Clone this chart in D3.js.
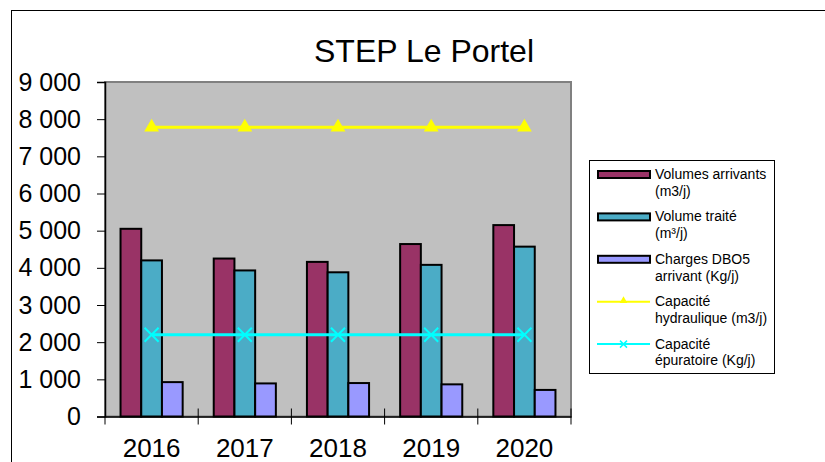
<!DOCTYPE html>
<html>
<head>
<meta charset="utf-8">
<script src="https://cdn.jsdelivr.net/npm/d3@7"></script>
<style>
  body { margin: 0; background: #fff; }
  svg { display: block; font-family: "Liberation Sans", Arial, sans-serif; }
</style>
</head>
<body>
<div id="chart"></div>
<script>
// Data.
const years = ["2016", "2017", "2018", "2019", "2020"];
const volumesArrivants = [5050, 4250, 4160, 4640, 5150];
const volumeTraite = [4200, 3930, 3880, 4080, 4570];
const chargesDBO5 = [925, 890, 900, 865, 715];
const capaciteHydraulique = [7780, 7780, 7780, 7780, 7780];
const capaciteEpuratoire = [2200, 2200, 2200, 2200, 2200];
const yTicks = [0, 1000, 2000, 3000, 4000, 5000, 6000, 7000, 8000, 9000];

const barSeries = [
    { name: ["Volumes arrivants", "(m3/j)"], values: volumesArrivants, color: "#993366" },
    { name: ["Volume traité", "(m³/j)"], values: volumeTraite, color: "#4BACC6" },
    { name: ["Charges DBO5", "arrivant (Kg/j)"], values: chargesDBO5, color: "#9999FF" }
];
const lineSeries = [
    { name: ["Capacité", "hydraulique (m3/j)"], values: capaciteHydraulique, color: "#FFFF00", marker: "triangle" },
    { name: ["Capacité", "épuratoire (Kg/j)"], values: capaciteEpuratoire, color: "#00FFFF", marker: "cross" }
];

const width = 825, height = 462;
const plot = { left: 105, right: 571, top: 82, bottom: 416.5 };

const svg = d3.select("#chart").append("svg")
    .attr("width", width)
    .attr("height", height);

// outer chart frame
svg.append("rect")
    .attr("x", 11.5).attr("y", 10.5)
    .attr("width", 900).attr("height", 600)
    .attr("fill", "#fff")
    .attr("stroke", "#000");

// title
svg.append("text")
    .attr("x", 424).attr("y", 61.5)
    .attr("text-anchor", "middle")
    .attr("font-size", 32)
    .text("STEP Le Portel");

// scales
const y = d3.scaleLinear().domain([0, 9000]).range([plot.bottom, plot.top]);
const x = d3.scaleBand().domain(years)
    .range([plot.left, plot.right])
    .paddingInner(1 / 3).paddingOuter(1 / 6);
const xs = d3.scaleBand().domain(d3.range(barSeries.length))
    .range([0, x.bandwidth()]);
const step = x.step();

// plot area
svg.append("rect")
    .attr("x", plot.left).attr("y", plot.top)
    .attr("width", plot.right - plot.left).attr("height", plot.bottom - plot.top)
    .attr("fill", "#C0C0C0")
    .attr("stroke", "#808080")
    .attr("stroke-width", 2);

// bars
barSeries.forEach((s, i) => {
    svg.append("g").selectAll("rect")
        .data(s.values)
        .join("rect")
        .attr("x", (d, j) => x(years[j]) + xs(i))
        .attr("y", d => y(d))
        .attr("width", xs.bandwidth())
        .attr("height", d => y(0) - y(d))
        .attr("fill", s.color)
        .attr("stroke", "#000")
        .attr("stroke-width", 2);
});

// axes
const yAxis = svg.append("g")
    .attr("transform", `translate(${plot.left},0)`)
    .call(d3.axisLeft(y).tickValues(yTicks).tickSize(8).tickPadding(16)
        .tickFormat(d => d3.format(",")(d).replace(",", " ")));
yAxis.select(".domain").attr("stroke", "#000").attr("stroke-width", 1.5);
yAxis.selectAll("text").attr("font-size", 25).attr("fill", "#000")
    .attr("font-family", "Liberation Sans, Arial, sans-serif");

const xAxis = svg.append("g")
    .attr("transform", `translate(0,${plot.bottom})`)
    .call(d3.axisBottom(x).tickSize(0).tickPadding(22));
xAxis.select(".domain").attr("stroke", "#000").attr("stroke-width", 1.5);
xAxis.selectAll("text").attr("font-size", 26).attr("fill", "#000")
    .attr("font-family", "Liberation Sans, Arial, sans-serif");

// category boundary ticks
const bounds = years.map(yr => x(yr) - step / 6).concat([plot.right]);
svg.append("g").selectAll("line")
    .data(bounds)
    .join("line")
    .attr("x1", d => d).attr("x2", d => d)
    .attr("y1", (d, i) => i === 0 ? plot.bottom : plot.bottom - 8)
    .attr("y2", plot.bottom + 8)
    .attr("stroke", "#000");

// line series
function drawMarker(g, type, cx, cy, color) {
    if (type === "triangle") {
        g.append("path")
            .attr("d", d3.symbol().type(d3.symbolTriangle).size(95)())
            .attr("transform", `translate(${cx},${cy})`)
            .attr("fill", color);
    } else {
        g.append("path")
            .attr("d", `M${cx - 7},${cy - 7}L${cx + 7},${cy + 7}M${cx - 7},${cy + 7}L${cx + 7},${cy - 7}`)
            .attr("stroke", color)
            .attr("stroke-width", 2);
    }
}

lineSeries.forEach(s => {
    const g = svg.append("g");
    const pts = s.values.map((v, j) => [x(years[j]) + x.bandwidth() / 2, y(v)]);
    g.append("path")
        .attr("d", d3.line()(pts))
        .attr("fill", "none")
        .attr("stroke", s.color)
        .attr("stroke-width", 3);
    pts.forEach(p => drawMarker(g, s.marker, p[0], p[1], s.color));
});

// legend
const legend = svg.append("g");
legend.append("rect")
    .attr("x", 589.5).attr("y", 160.5)
    .attr("width", 185).attr("height", 213)
    .attr("fill", "#fff")
    .attr("stroke", "#000");

const legendItems = barSeries.map(s => ({ ...s, kind: "bar" }))
    .concat(lineSeries.map(s => ({ ...s, kind: "line" })));

legendItems.forEach((s, i) => {
    const cy = 174.5 + i * 42.4;
    const g = legend.append("g");
    if (s.kind === "bar") {
        g.append("rect")
            .attr("x", 598).attr("y", cy - 3.5)
            .attr("width", 52).attr("height", 7)
            .attr("fill", s.color)
            .attr("stroke", "#000")
            .attr("stroke-width", 2);
    } else {
        g.append("line")
            .attr("x1", 597).attr("x2", 650)
            .attr("y1", cy).attr("y2", cy)
            .attr("stroke", s.color)
            .attr("stroke-width", 2);
        if (s.marker === "triangle") {
            g.append("path")
                .attr("d", d3.symbol().type(d3.symbolTriangle).size(26)())
                .attr("transform", `translate(623.5,${cy - 1})`)
                .attr("fill", s.color);
        } else {
            g.append("path")
                .attr("d", `M620,${cy - 3.5}L627,${cy + 3.5}M620,${cy + 3.5}L627,${cy - 3.5}`)
                .attr("stroke", s.color)
                .attr("stroke-width", 1.5);
        }
    }
    s.name.forEach((line, k) => {
        g.append("text")
            .attr("x", 655)
            .attr("y", cy + 4.5 + k * 16.7)
            .attr("font-size", 14)
            .attr("fill", "#000")
            .text(line);
    });
});
</script>
</body>
</html>
